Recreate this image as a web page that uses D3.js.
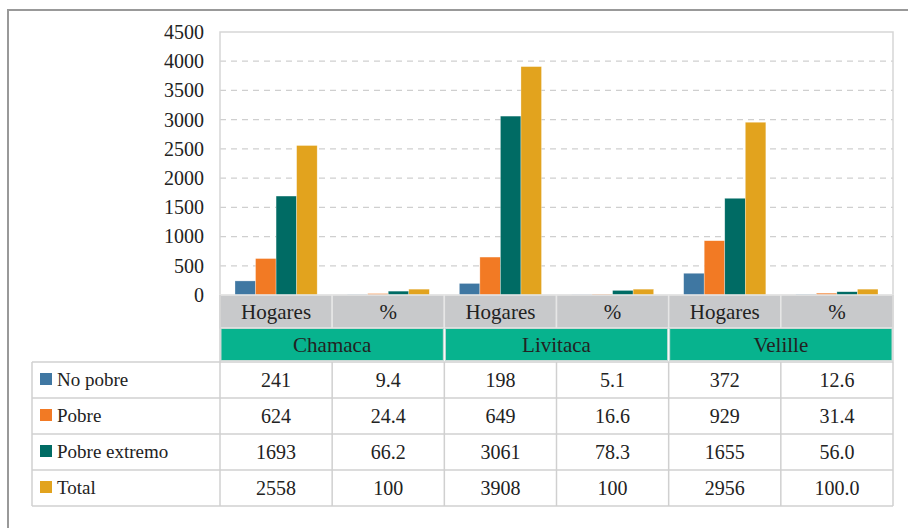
<!DOCTYPE html>
<html><head><meta charset="utf-8">
<script src="https://cdn.jsdelivr.net/npm/d3@7"></script>
<style>
html body svg#chart text, html body svg#chart g text { font-family: "Liberation Serif", "Times New Roman", serif !important; }
</style>
</head><body style="margin:0;padding:0;background:#fff;">
<script>
// ---- data ----
const municipalities = ["Chamaca", "Livitaca", "Velille"];
const measures = ["Hogares", "%"];
const seriesNames = ["No pobre", "Pobre", "Pobre extremo", "Total"];
const seriesColors = ["#3f77a2", "#f27a24", "#006b64", "#e2a31e"];
const noPobre      = [241, 9.4, 198, 5.1, 372, 12.6];
const pobre        = [624, 24.4, 649, 16.6, 929, 31.4];
const pobreExtremo = [1693, 66.2, 3061, 78.3, 1655, 56.0];
const total        = [2558, 100, 3908, 100, 2956, 100.0];
const noPobreText      = ["241", "9.4", "198", "5.1", "372", "12.6"];
const pobreText        = ["624", "24.4", "649", "16.6", "929", "31.4"];
const pobreExtremoText = ["1693", "66.2", "3061", "78.3", "1655", "56.0"];
const totalText        = ["2558", "100", "3908", "100", "2956", "100.0"];
const yTicks = [0, 500, 1000, 1500, 2000, 2500, 3000, 3500, 4000, 4500];

const seriesValues = [noPobre, pobre, pobreExtremo, total];
const seriesTexts = [noPobreText, pobreText, pobreExtremoText, totalText];
const columns = [];
municipalities.forEach(m => measures.forEach(s => columns.push(m + "|" + s)));

// ---- layout ----
const W = 908, H = 528;
const FONT = "Liberation Serif";
const plotL = 220, plotR = 893, plotT = 32, plotB = 295;
const grayB = 328, tealB = 361;
const rowH = 36;

const svg = d3.select("body").append("svg").attr("id", "chart").attr("width", W).attr("height", H)
  .style("display", "block").attr("font-family", FONT);

function serif(sel, size) {
  return sel.attr("font-family", FONT)
    .attr("font-size", size).style("font-size", size + "px").attr("fill", "#222");
}

// outer frame
svg.append("path").attr("d", `M8,${H + 5} L8,10 L${W + 5},10`)
  .attr("fill", "none").attr("stroke", "#999").attr("stroke-width", 2);

const x0 = d3.scaleBand().domain(columns).range([plotL, plotR]);
const x1 = d3.scaleBand().domain(seriesNames).range([0, x0.bandwidth()]).paddingOuter(0.73);
const y = d3.scaleLinear().domain([0, 4500]).range([plotB, plotT]);

// gridlines
svg.append("g").selectAll("line").data(yTicks.filter(t => t > 0 && t < 4500)).join("line")
  .attr("x1", plotL).attr("x2", plotR)
  .attr("y1", d => y(d)).attr("y2", d => y(d))
  .attr("stroke", "#cfcfcf").attr("stroke-width", 1.3).attr("stroke-dasharray", "6,5");

// plot border
svg.append("rect").attr("x", plotL).attr("y", plotT).attr("width", plotR - plotL).attr("height", plotB - plotT)
  .attr("fill", "none").attr("stroke", "#d6d6d6").attr("stroke-width", 1.5);

// y axis
const yAxis = svg.append("g").attr("transform", `translate(${plotL},0)`)
  .call(d3.axisLeft(y).tickValues(yTicks).tickSize(0).tickPadding(16).tickFormat(d3.format("d")));
yAxis.select(".domain").remove();
yAxis.attr("font-family", FONT).attr("font-size", 20);
serif(yAxis.selectAll("text"), 20);

// bars
const barG = svg.append("g");
seriesNames.forEach((s, si) => {
  barG.append("g").selectAll("rect").data(columns.map((c, i) => ({c, v: seriesValues[si][i]}))).join("rect")
    .attr("x", d => x0(d.c) + x1(s))
    .attr("width", x1.bandwidth())
    .attr("y", d => y(d.v))
    .attr("height", d => y(0) - y(d.v))
    .attr("fill", seriesColors[si])
    .attr("stroke", "#fff").attr("stroke-width", 0.6).attr("stroke-opacity", 0.5);
});

// gray measure header row
svg.append("g").selectAll("rect").data(columns).join("rect")
  .attr("x", d => x0(d)).attr("y", plotB).attr("width", x0.bandwidth()).attr("height", grayB - plotB)
  .attr("fill", "#c8c9cb").attr("stroke", "#e6e6e6").attr("stroke-width", 1.5);
serif(svg.append("g").selectAll("text").data(columns).join("text")
  .attr("x", d => x0(d) + x0.bandwidth() / 2).attr("y", (plotB + grayB) / 2 + 7)
  .attr("text-anchor", "middle"), 21)
  .text(d => d.split("|")[1]);

// teal municipality row
svg.append("g").selectAll("rect").data(municipalities).join("rect")
  .attr("x", d => x0(d + "|" + measures[0]) + 1).attr("y", grayB + 0.5)
  .attr("width", x0.bandwidth() * 2 - 2).attr("height", tealB - grayB - 1)
  .attr("fill", "#07b38e").attr("stroke", "#c9d9d4").attr("stroke-width", 1);
serif(svg.append("g").selectAll("text").data(municipalities).join("text")
  .attr("x", d => x0(d + "|" + measures[0]) + x0.bandwidth())
  .attr("y", (grayB + tealB) / 2 + 7)
  .attr("text-anchor", "middle"), 21)
  .text(d => d);

// data table
const tTop = 362, legL = 32;
const tbl = svg.append("g");
seriesNames.forEach((s, si) => {
  const ry = tTop + si * rowH;
  tbl.append("rect").attr("x", 40).attr("y", ry + rowH / 2 - 7).attr("width", 12).attr("height", 12)
    .attr("fill", seriesColors[si]);
  serif(tbl.append("text").attr("x", 57).attr("y", ry + rowH / 2 + 6), 19).text(s);
  serif(tbl.selectAll(null).data(columns).join("text")
    .attr("x", d => x0(d) + x0.bandwidth() / 2).attr("y", ry + rowH / 2 + 6.5)
    .attr("text-anchor", "middle"), 20)
    .text((d, i) => seriesTexts[si][i]);
});
const tBot = tTop + rowH * seriesNames.length;
// horizontal lines
d3.range(seriesNames.length + 1).forEach(i => {
  tbl.append("line").attr("x1", legL).attr("x2", plotR)
    .attr("y1", tTop + i * rowH).attr("y2", tTop + i * rowH)
    .attr("stroke", "#d0d0d0").attr("stroke-width", 1.5);
});
// vertical lines
const vx = [legL, plotL].concat(columns.map(c => x0(c) + x0.bandwidth()));
vx.forEach(x => {
  tbl.append("line").attr("x1", x).attr("x2", x).attr("y1", tTop).attr("y2", tBot)
    .attr("stroke", "#d0d0d0").attr("stroke-width", 1.5);
});
svg.append("line").attr("x1", plotL).attr("x2", plotL).attr("y1", plotB).attr("y2", tTop)
  .attr("stroke", "#d0d0d0").attr("stroke-width", 1.5);
svg.append("line").attr("x1", plotR).attr("x2", plotR).attr("y1", plotB).attr("y2", tTop)
  .attr("stroke", "#d6d6d6").attr("stroke-width", 1.5);
</script>
</body></html>
